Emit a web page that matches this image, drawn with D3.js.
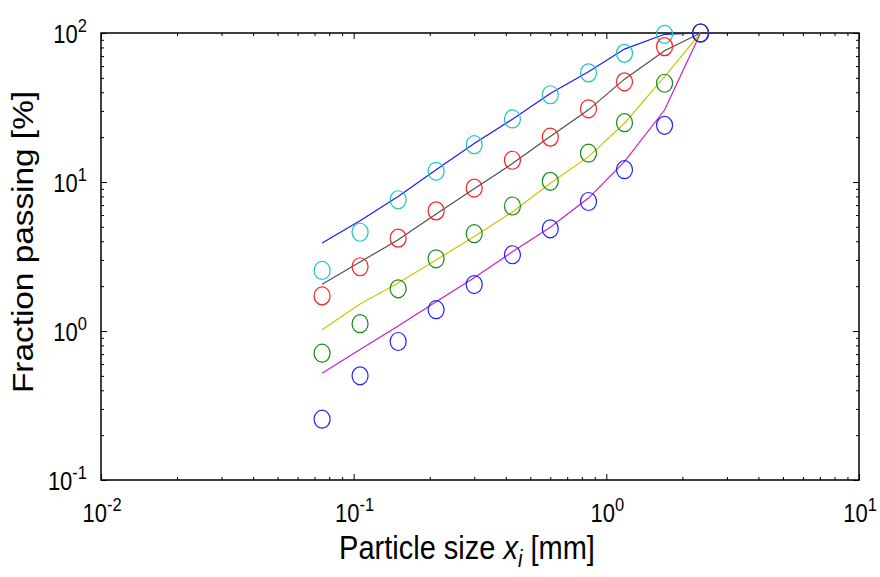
<!DOCTYPE html>
<html>
<head>
<meta charset="utf-8">
<script src="https://cdn.jsdelivr.net/npm/d3@7"></script>
<style>
html,body{margin:0;padding:0;background:#fff;}
svg{display:block;font-family:"Liberation Sans",Arial,sans-serif;}
</style>
</head>
<body>
<svg id="chart" width="880" height="577"></svg>
<script>
// ---- data ----
const sizes = [0.075, 0.106, 0.15, 0.212, 0.3, 0.425, 0.6, 0.85, 1.18, 1.7, 2.36];
const measuredCyan  = [2.55, 4.6, 7.6, 11.8, 17.8, 26.5, 38.5, 54, 73, 98, 100];
const measuredRed   = [1.72, 2.7, 4.2, 6.4, 9.1, 14.0, 20.0, 31, 47, 81, 100];
const measuredGreen = [0.71, 1.12, 1.92, 3.05, 4.5, 6.9, 10.1, 15.6, 25, 46, 100];
const measuredBlue  = [0.256, 0.5, 0.85, 1.39, 2.05, 3.25, 4.85, 7.4, 12.1, 24, 100];
const fitBlue    = [3.9, 5.5, 8.0, 12.1, 18.1, 26.4, 39.3, 55, 78, 98, 100];
const fitGray    = [2.06, 2.9, 4.1, 6.1, 9.0, 13.3, 20.2, 30.5, 49, 76, 100];
const fitYellow  = [1.02, 1.52, 2.1, 3.0, 4.3, 6.3, 9.8, 14.8, 24.8, 51, 100];
const fitMagenta = [0.52, 0.75, 1.08, 1.57, 2.28, 3.4, 4.97, 7.8, 13.7, 30.4, 100];
const xMajor = [0.01, 0.1, 1, 10];
const xExp = ["-2", "-1", "0", "1"];
const yMajor = [0.1, 1, 10, 100];
const yExp = ["-1", "0", "1", "2"];
const xTitle = "Particle size";
const yTitle = "Fraction passing [%]";

const seriesMarkers = [
  {values: measuredCyan,  color: "#1fc4c4"},
  {values: measuredRed,   color: "#ff2020"},
  {values: measuredGreen, color: "#188a18"},
  {values: measuredBlue,  color: "#2020ff"}
];
const seriesLines = [
  {values: fitBlue,    color: "#1a1aff"},
  {values: fitGray,    color: "#505050"},
  {values: fitYellow,  color: "#c8c800"},
  {values: fitMagenta, color: "#c81ec8"}
];

// ---- layout ----
const L = 101, R = 859, T = 33, B = 480;
const VS = 1.15; // vertical text stretch seen in the reference
const svg = d3.select("#chart");
const x = d3.scaleLog().domain([0.01, 10]).range([L, R]);
const y = d3.scaleLog().domain([0.1, 100]).range([B, T]);

function minorTicks(lo, hi) {
  const out = [];
  for (let e = Math.log10(lo); e < Math.log10(hi); e++) {
    for (let m = 2; m <= 9; m++) out.push(m * Math.pow(10, e));
  }
  return out;
}
const xMinor = minorTicks(0.01, 10);
const yMinor = minorTicks(0.1, 100);

const axG = svg.append("g");
function addAxis(axisFn, scale, transform, values, size) {
  const g = axG.append("g").attr("transform", transform)
    .call(axisFn(scale).tickValues(values).tickSize(-size).tickFormat(""));
  g.select(".domain").remove();
  g.selectAll("line").attr("stroke", "#000").attr("stroke-width", 1);
}
addAxis(d3.axisBottom, x, `translate(0,${B})`, xMajor, 6);
addAxis(d3.axisBottom, x, `translate(0,${B})`, xMinor, 3);
addAxis(d3.axisTop, x, `translate(0,${T})`, xMajor, 6);
addAxis(d3.axisTop, x, `translate(0,${T})`, xMinor, 3);
addAxis(d3.axisLeft, y, `translate(${L},0)`, yMajor, 6);
addAxis(d3.axisLeft, y, `translate(${L},0)`, yMinor, 3);
addAxis(d3.axisRight, y, `translate(${R},0)`, yMajor, 6);
addAxis(d3.axisRight, y, `translate(${R},0)`, yMinor, 3);

axG.append("rect").attr("x", L).attr("y", T).attr("width", R - L).attr("height", B - T)
  .attr("fill", "none").attr("stroke", "#000").attr("stroke-width", 1.5);

// tick labels
const tickFont = 22, supFont = 16.5;
function powerLabel(px, py, anchor, exp) {
  const t = svg.append("g").attr("transform", `translate(${px},${py}) scale(1,${VS})`)
    .append("text").attr("text-anchor", anchor).attr("font-size", tickFont).attr("fill", "#000");
  t.append("tspan").text("10");
  t.append("tspan").attr("dy", -9.5).attr("font-size", supFont).text(exp);
}
xMajor.forEach((v, i) => powerLabel(x(v) + 1, B + 42, "middle", xExp[i]));
yMajor.forEach((v, i) => powerLabel(L - 14, y(v) + 9.5, "end", yExp[i]));

// axis titles
const xt = svg.append("g").attr("transform", `translate(467,559) scale(1,${VS})`)
  .append("text").attr("text-anchor", "middle").attr("font-size", 29).attr("fill", "#000");
xt.append("tspan").text(xTitle + " ");
xt.append("tspan").attr("font-style", "italic").text("x");
xt.append("tspan").attr("font-style", "italic").attr("font-size", 20).attr("dy", 7).text("i");
xt.append("tspan").attr("dy", -7).text(" [mm]");

svg.append("g").attr("transform", `translate(33,242) scale(1,${VS}) rotate(-90)`)
  .append("text").attr("text-anchor", "middle").attr("font-size", 29).attr("fill", "#000").text(yTitle);

// fitted lines
const line = d3.line().x((d, i) => x(sizes[i])).y(d => y(d));
const plotG = svg.append("g");
seriesLines.forEach(s => {
  plotG.append("path").datum(s.values).attr("d", line)
    .attr("fill", "none").attr("stroke", s.color).attr("stroke-width", 1.2);
});

// measured markers
seriesMarkers.forEach(s => {
  plotG.selectAll(null).data(s.values).enter().append("ellipse")
    .attr("cx", (d, i) => x(sizes[i])).attr("cy", d => y(d))
    .attr("rx", 8).attr("ry", 9)
    .attr("fill", "none").attr("stroke", s.color).attr("stroke-width", 1.2);
});
</script>
</body>
</html>
